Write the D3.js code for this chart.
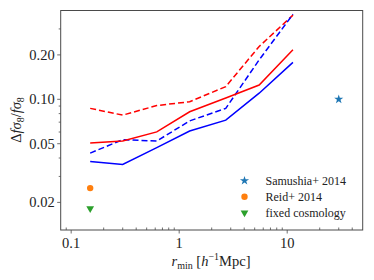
<!DOCTYPE html>
<html>
<head>
<meta charset="utf-8">
<script src="https://cdn.jsdelivr.net/npm/d3@7"></script>
<style>
  body { margin: 0; background: #fff; }
  svg { display: block; font-family: "Liberation Serif", "DejaVu Serif", serif; }
</style>
</head>
<body>
<div id="chart"></div>
<script>
// r_min bins (h^-1 Mpc)
const rmin = [0.15, 0.3, 0.62, 1.25, 2.7, 5.5, 11.3];

// the four curves
const redSolid   = [0.0506, 0.0521, 0.0601, 0.0823, 0.102, 0.125, 0.217];
const redDashed  = [0.0868, 0.0781, 0.0907, 0.0963, 0.122, 0.228, 0.372];
const blueSolid  = [0.0379, 0.0362, 0.0470, 0.0610, 0.0722, 0.110, 0.178];
const blueDashed = [0.0432, 0.0533, 0.0521, 0.0714, 0.0868, 0.185, 0.377];

// single reference points
const refNames = ["Samushia+ 2014", "Reid+ 2014", "fixed cosmology"];
const refX = [30, 0.15, 0.15];
const refY = [0.1, 0.025, 0.0182];
const refColors = ["#1f77b4", "#ff7f0e", "#2ca02c"];
const refShapes = [d3.symbolStar, d3.symbolCircle, d3.symbolTriangle];

const yTickValues = [0.02, 0.05, 0.1, 0.2];
const xTickValues = [0.1, 1, 10];

const width = 374, height = 280;
const margin = {left: 60.7, right: 11.3, top: 10.5, bottom: 50};

const svg = d3.select("#chart").append("svg")
    .attr("width", width)
    .attr("height", height);

const x = d3.scaleLog().domain([0.08, 50]).range([margin.left, width - margin.right]);
const y = d3.scaleLog().domain([0.013, 0.4]).range([height - margin.bottom, margin.top]);

// minor ticks
const minorX = [];
for (const dec of [0.01, 0.1, 1, 10]) for (let k = 2; k <= 9; k++) {
    const v = dec * k;
    if (v > 0.08 && v < 50) minorX.push(v);
}
const minorY = [];
for (const dec of [0.01, 0.1]) for (let k = 2; k <= 9; k++) {
    const v = dec * k;
    if (v > 0.013 && v < 0.4 && !yTickValues.some(t => Math.abs(t - v) < 1e-9)) minorY.push(v);
}

const axisColor = "#4a4a4a";
const x0 = margin.left, y0 = height - margin.bottom;

// x ticks
svg.append("g").selectAll("line").data(minorX).join("line")
    .attr("x1", d => x(d)).attr("x2", d => x(d))
    .attr("y1", y0).attr("y2", y0 - 2.5)
    .attr("stroke", axisColor).attr("stroke-width", 0.8);
svg.append("g").selectAll("line").data(xTickValues).join("line")
    .attr("x1", d => x(d)).attr("x2", d => x(d))
    .attr("y1", y0).attr("y2", y0 + 3.5)
    .attr("stroke", axisColor).attr("stroke-width", 0.8);
svg.append("g").selectAll("text").data(xTickValues).join("text")
    .attr("x", d => x(d)).attr("y", y0 + 18)
    .attr("text-anchor", "middle")
    .attr("font-size", 14.5).attr("fill", "#222")
    .text(d => d3.format("~g")(d));

// y ticks
svg.append("g").selectAll("line").data(minorY).join("line")
    .attr("x1", x0).attr("x2", x0 - 2)
    .attr("y1", d => y(d)).attr("y2", d => y(d))
    .attr("stroke", axisColor).attr("stroke-width", 0.8);
svg.append("g").selectAll("line").data(yTickValues).join("line")
    .attr("x1", x0).attr("x2", x0 - 3.5)
    .attr("y1", d => y(d)).attr("y2", d => y(d))
    .attr("stroke", axisColor).attr("stroke-width", 0.8);
svg.append("g").selectAll("text").data(yTickValues).join("text")
    .attr("x", x0 - 6).attr("y", d => y(d) + 5)
    .attr("text-anchor", "end")
    .attr("font-size", 14.5).attr("fill", "#222")
    .text(d => d3.format(".2f")(d));

// curves
const line = d3.line().x((d, i) => x(rmin[i])).y(d => y(d));
const curves = [
    {data: redDashed, color: "#ff0000", dash: "6,3"},
    {data: blueDashed, color: "#0000ff", dash: "6,3"},
    {data: redSolid, color: "#ff0000", dash: null},
    {data: blueSolid, color: "#0000ff", dash: null}
];
svg.append("g").selectAll("path").data(curves).join("path")
    .attr("d", d => line(d.data))
    .attr("fill", "none")
    .attr("stroke", d => d.color)
    .attr("stroke-width", 1.5)
    .attr("stroke-dasharray", d => d.dash);

// reference markers
const sizes = [26, 32, 26];
svg.append("g").selectAll("path").data(refX).join("path")
    .attr("transform", (d, i) => `translate(${x(d)},${y(refY[i])})${i === 2 ? " rotate(180)" : ""}`)
    .attr("d", (d, i) => d3.symbol(refShapes[i], sizes[i])())
    .attr("fill", (d, i) => refColors[i]);

// frame
svg.append("rect")
    .attr("x", x0).attr("y", margin.top)
    .attr("width", width - margin.right - x0)
    .attr("height", y0 - margin.top)
    .attr("fill", "none").attr("stroke", axisColor).attr("stroke-width", 1);

// legend
const legX = 244.5, legY = 180.7, legStep = 16;
const leg = svg.append("g");
refNames.forEach((name, i) => {
    leg.append("path")
        .attr("transform", `translate(${legX},${legY + i * legStep})${i === 2 ? " rotate(180)" : ""}`)
        .attr("d", d3.symbol(refShapes[i], sizes[i])())
        .attr("fill", refColors[i]);
    leg.append("text")
        .attr("x", 265.5).attr("y", legY + i * legStep + 4)
        .attr("font-size", 12).attr("fill", "#222")
        .text(name);
});

// axis labels
const xl = svg.append("text")
    .attr("x", 211).attr("y", 266)
    .attr("text-anchor", "middle")
    .attr("font-size", 14.5).attr("fill", "#222");
xl.append("tspan").attr("font-style", "italic").text("r");
xl.append("tspan").attr("font-size", 10).attr("dy", 3).text("min");
xl.append("tspan").attr("dy", -3).text(" [");
xl.append("tspan").attr("font-style", "italic").text("h");
xl.append("tspan").attr("font-size", 10).attr("dy", -6).text("−1");
xl.append("tspan").attr("dy", 6).text("Mpc]");

const yl = svg.append("text")
    .attr("transform", "translate(21,120) rotate(-90)")
    .attr("text-anchor", "middle")
    .attr("font-size", 14.5).attr("fill", "#222");
yl.append("tspan").text("Δ");
yl.append("tspan").attr("font-style", "italic").text("fσ");
yl.append("tspan").attr("font-size", 10).attr("dy", 3).text("8");
yl.append("tspan").attr("dy", -3).text("/");
yl.append("tspan").attr("font-style", "italic").text("fσ");
yl.append("tspan").attr("font-size", 10).attr("dy", 3).text("8");
</script>
</body>
</html>
